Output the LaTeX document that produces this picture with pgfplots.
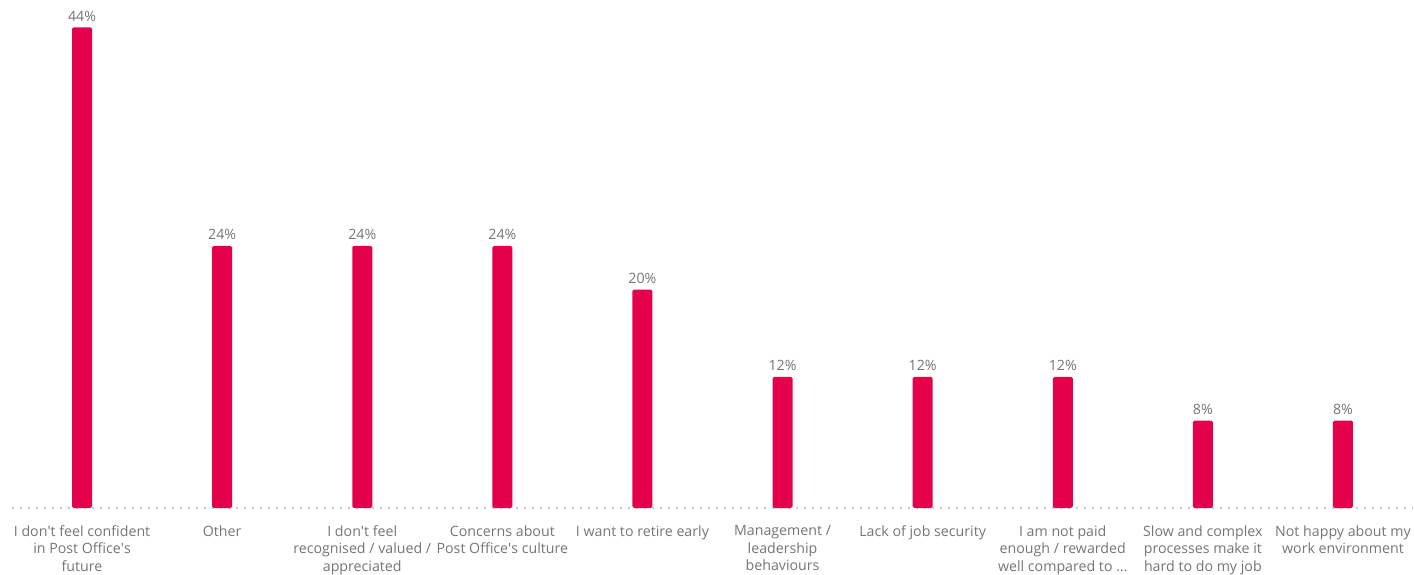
\documentclass[border=0pt]{standalone}
\usepackage{pgfplots}
\pgfplotsset{compat=1.18}
\usepackage{fontspec}
\setmainfont{Open Sans}
\definecolor{barred}{HTML}{E4004A}
\definecolor{txtgray}{HTML}{757575}
\definecolor{dotgray}{HTML}{C8C8C8}
\newcommand{\q}{\textquotesingle}
\begin{document}
\begin{tikzpicture}[x=1pt,y=1pt]
\begin{axis}[
  at={(0,0)}, anchor=south west,
  scale only axis,
  width=700.5pt, height=254pt,
  xmin=-0.5, xmax=9.5,
  ymin=0, ymax=46.5,
  ybar, bar width=10pt,
  axis y line=none,
  axis x line*=bottom,
  x axis line style={draw=dotgray, line width=1pt, dash pattern=on 1pt off 3pt, -},
  xtick=data,
  major tick length=0pt,
  /pgf/number format/assume math mode=true,
  xticklabels={
    {I don\q t feel confident\\in Post Office\q s\\future},
    {Other},
    {I don\q t feel\\recognised / valued /\\appreciated},
    {Concerns about\\Post Office\q s culture},
    {I want to retire early},
    {Management /\\leadership\\behaviours},
    {Lack of job security},
    {I am not paid\\enough / rewarded\\well compared to \ldots},
    {Slow and complex\\processes make it\\hard to do my job},
    {Not happy about my\\work environment}},
  xticklabel style={align=center, text=txtgray, font=\fontsize{7.1}{8.8}\selectfont, yshift=-8.5pt, inner sep=0pt},
  nodes near coords={\pgfmathprintnumber{\pgfplotspointmeta}\%},
  every node near coord/.append style={text=txtgray, font=\fontsize{7.1}{8.8}\selectfont, yshift=-0.5pt},
  clip=false,
]
\addplot[fill=barred, draw=none, rounded corners=0.8pt] coordinates {
  (0,44) (1,24) (2,24) (3,24) (4,20) (5,12) (6,12) (7,12) (8,8) (9,8)};
\end{axis}
\pgfresetboundingbox
\path (-6pt,-33pt) rectangle (701pt,254pt);
\end{tikzpicture}
\end{document}
